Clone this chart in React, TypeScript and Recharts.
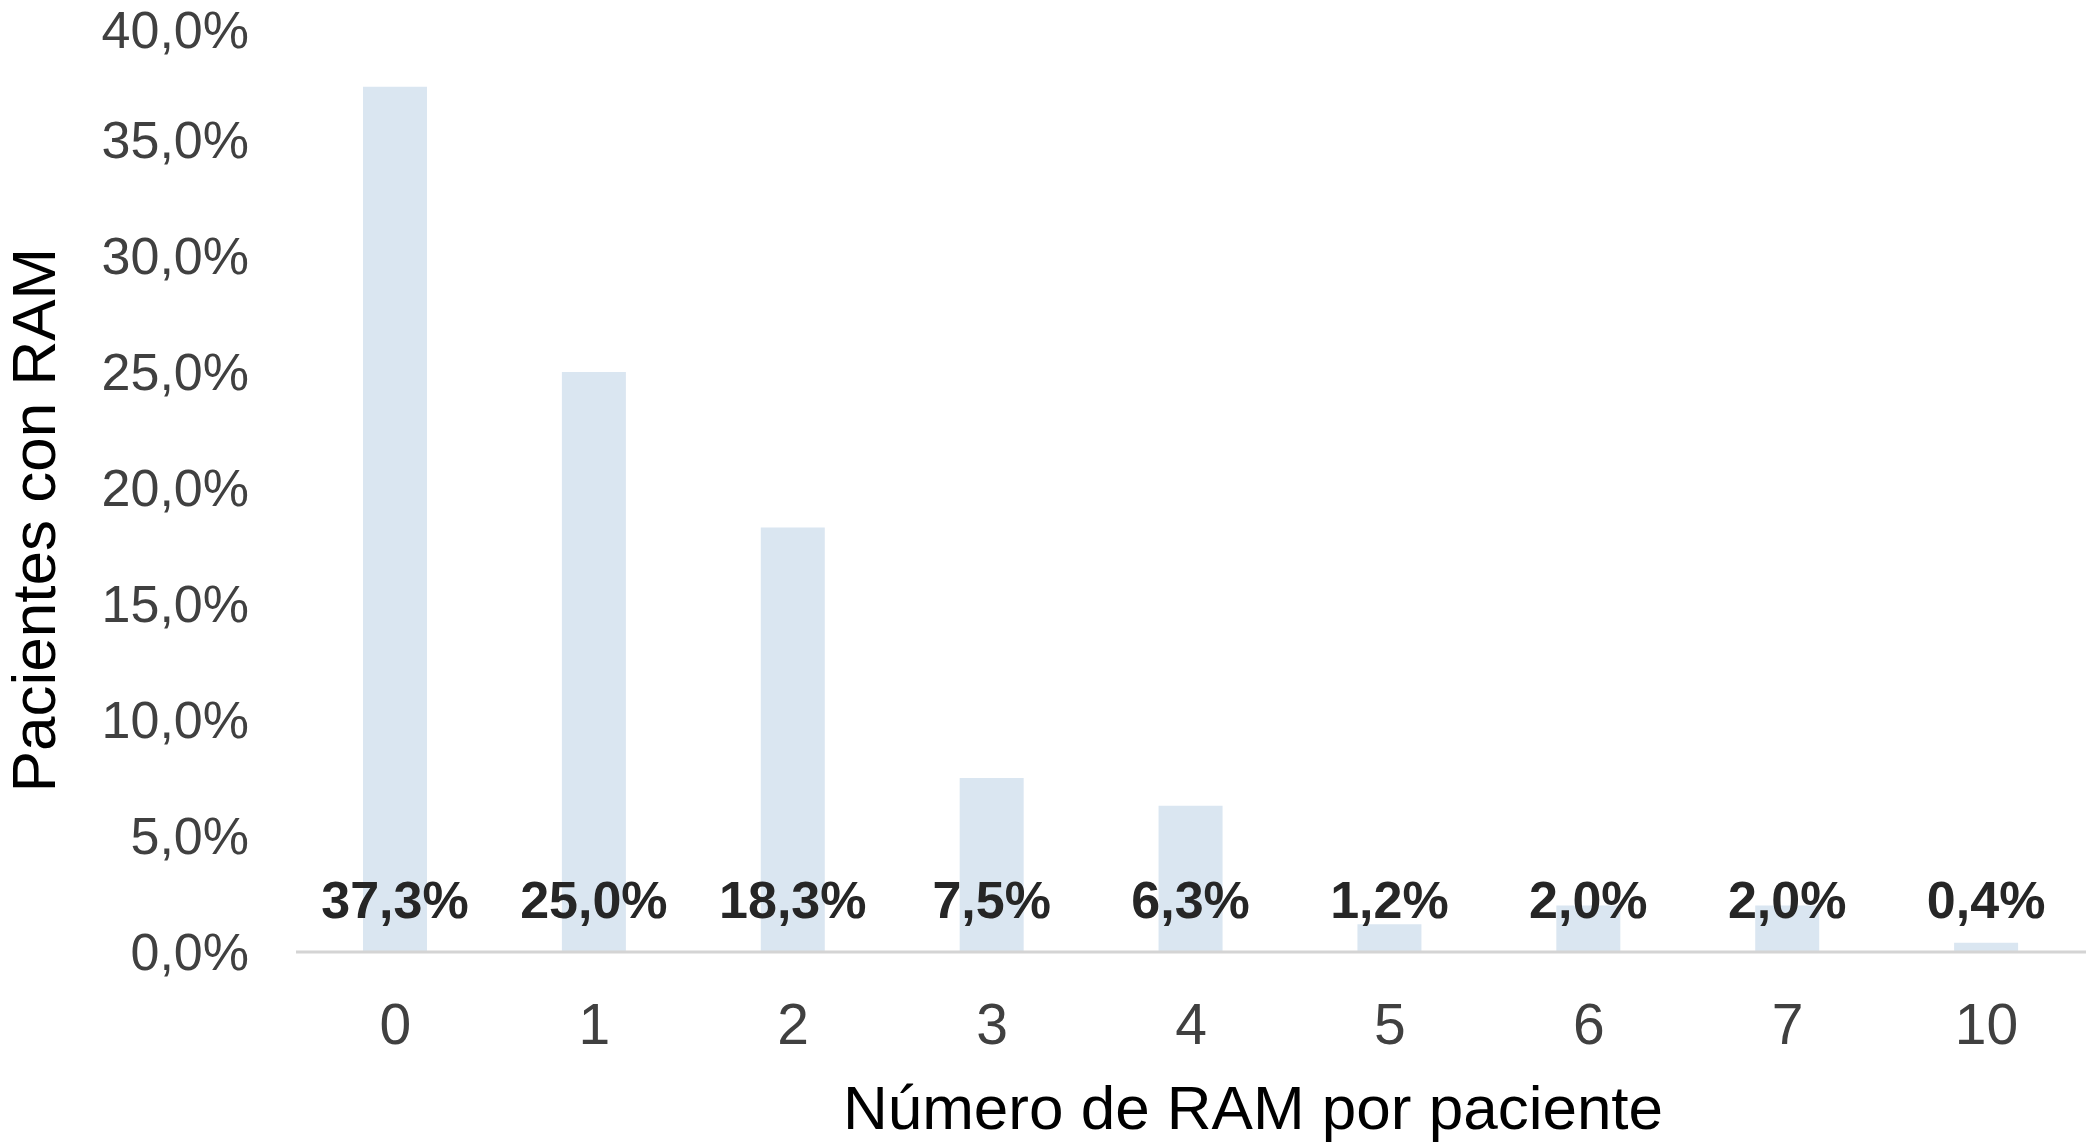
import React from 'react';
import { BarChart, Bar, XAxis, YAxis, LabelList, Label } from 'recharts';

const categories = ['0', '1', '2', '3', '4', '5', '6', '7', '10'];
const percentages = [37.3, 25.0, 18.3, 7.5, 6.3, 1.2, 2.0, 2.0, 0.4];
const yTicks = [0, 5, 10, 15, 20, 25, 30, 35, 40];
const xTitle = 'Número de RAM por paciente';
const yTitle = 'Pacientes con RAM';

const data = categories.map((c, i) => ({ cat: c, value: percentages[i] }));

const FONT = '"Liberation Sans", Arial, sans-serif';
const fmt = (v: number) => v.toFixed(1).replace('.', ',') + '%';

const DataLabel = (props: any) => {
  const { x, y, width, height, value } = props;
  const bottom = Number(y) + Number(height);
  return (
    <text
      x={Number(x) + Number(width) / 2}
      y={bottom - 34}
      textAnchor="middle"
      fontFamily={FONT}
      fontWeight="bold"
      fontSize={52}
      fill="#262626"
    >
      {fmt(Number(value))}
    </text>
  );
};

const XTitle = (props: any) => {
  const vb = props.viewBox || {};
  const cx = vb.x + vb.width / 2 + 62;
  return (
    <text x={cx} y={1129} textAnchor="middle" fontFamily={FONT} fontSize={62} fill="#000">
      {xTitle}
    </text>
  );
};

const YTitle = (props: any) => {
  const vb = props.viewBox || {};
  const cy = vb.y + vb.height / 2 + 32;
  const bx = 55;
  return (
    <text
      x={bx}
      y={cy}
      textAnchor="middle"
      fontFamily={FONT}
      fontSize={62}
      fill="#000"
      transform={`rotate(-90, ${bx}, ${cy})`}
    >
      {yTitle}
    </text>
  );
};

export default function App() {
  return (
    <div style={{ position: 'absolute', left: 0, top: 0, background: '#fff' }}>
      <BarChart
        width={2091}
        height={1147}
        data={data}
        margin={{ top: 24, right: 5, left: 0, bottom: 0 }}
      >
        <XAxis
          dataKey="cat"
          height={195}
          tickLine={false}
          axisLine={{ stroke: '#D4D4D4', strokeWidth: 3 }}
          tickMargin={46}
          tick={{ fontSize: 57, fill: '#404040', fontFamily: FONT }}
          interval={0}
        >
          <Label content={<XTitle />} />
        </XAxis>
        <YAxis
          width={296}
          domain={[0, 40]}
          ticks={yTicks}
          tickFormatter={fmt}
          tickLine={false}
          axisLine={false}
          tickMargin={41}
          tick={{ fontSize: 52, fill: '#404040', fontFamily: FONT }}
        >
          <Label content={<YTitle />} />
        </YAxis>
        <Bar dataKey="value" fill="#DAE6F1" barSize={64} isAnimationActive={false}>
          <LabelList dataKey="value" content={<DataLabel />} />
        </Bar>
      </BarChart>
    </div>
  );
}
